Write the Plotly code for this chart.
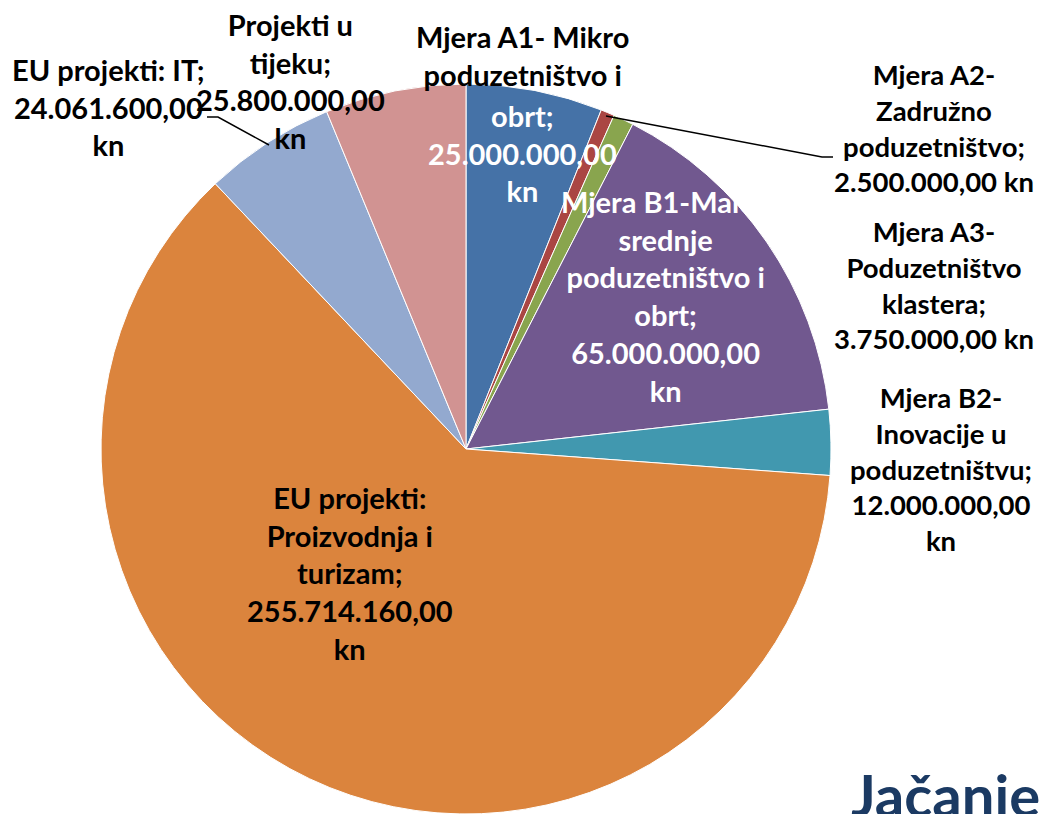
import plotly.graph_objects as go

categories = [
    "Mjera A1- Mikro poduzetništvo i obrt",
    "Mjera A2- Zadružno poduzetništvo",
    "Mjera A3- Poduzetništvo klastera",
    "Mjera B1-Malo i srednje poduzetništvo i obrt",
    "Mjera B2- Inovacije u poduzetništvu",
    "EU projekti: Proizvodnja i turizam",
    "EU projekti: IT",
    "Projekti u tijeku",
]
values = [25000000.00, 2500000.00, 3750000.00, 65000000.00, 12000000.00,
          255714160.00, 24061600.00, 25800000.00]
colors = ["#4572A7", "#AA4643", "#89A54E", "#71588F", "#4198AF",
          "#DB843D", "#93A9CF", "#D19392"]

# page body has an 8px margin; size the figure so it ends at the window edge
OFF = 8
W, H = 1047 - OFF, 814 - OFF
FONT = "Lato, 'Open Sans', sans-serif"


def px(x):
    return (x - OFF) / W


def py(y):
    return 1 - (y - OFF) / H


fig = go.Figure(go.Pie(
    labels=categories,
    values=values,
    sort=False,
    direction="clockwise",
    rotation=0,
    marker=dict(colors=colors, line=dict(color="white", width=1)),
    textinfo="none",
    hoverinfo="label+value",
    domain=dict(x=[px(101), px(831)], y=[0, py(84)]),
    showlegend=False,
))


def fmt(v):
    s = f"{v:,.2f}"
    return s.replace(",", "X").replace(".", ",").replace("X", ".")


labels_def = [
    # text, center x, center y (pixels), color, size
    (f"Projekti u<br>tijeku;<br>{fmt(values[7])}<br>kn", 290, 81, "black", 29),
    (f"EU projekti: IT;<br>{fmt(values[6])}<br>kn", 108, 107, "black", 29),
    ("Mjera A1- Mikro<br>poduzetništvo i", 522, 55, "black", 29),
    (f"obrt;<br>{fmt(values[0])}<br>kn", 522, 153, "white", 29),
    (f"Mjera A2-<br>Zadružno<br>poduzetništvo;<br>{fmt(values[1])} kn", 934, 128, "black", 27.5),
    (f"Mjera A3-<br>Poduzetništvo<br>klastera;<br>{fmt(values[2])} kn", 934, 285, "black", 27.5),
    (f"Mjera B1-Malo i<br>srednje<br>poduzetništvo i<br>obrt;<br>{fmt(values[3])}<br>kn", 665, 296, "white", 29),
    (f"Mjera B2-<br>Inovacije u<br>poduzetništvu;<br>{fmt(values[4])}<br>kn", 941, 469, "black", 27.5),
    (f"EU projekti:<br>Proizvodnja i<br>turizam;<br>{fmt(values[5])}<br>kn", 350, 573, "black", 29),
]

annotations = []
for text, cx, cy, col, size in labels_def:
    annotations.append(dict(
        text=f"<b>{text}</b>", x=px(cx), y=py(cy), xref="paper", yref="paper",
        xanchor="center", yanchor="middle", showarrow=False, align="center",
        font=dict(family=FONT, size=size, color=col),
    ))

annotations.append(dict(
    text="<b>Jačanje</b>", x=px(1042), y=py(758), xref="paper", yref="paper",
    xanchor="right", yanchor="top", showarrow=False,
    font=dict(family=FONT, size=58, color="#1B3A63"),
))

shapes = []
leader_paths = [
    [(606, 116), (822, 157), (833, 157)],
    [(207, 117), (218, 117), (269, 145)],
]
for pts in leader_paths:
    path = "M " + " L ".join(f"{px(x)},{py(y)}" for x, y in pts)
    shapes.append(dict(type="path", path=path, xref="paper", yref="paper",
                       line=dict(color="black", width=1.5)))

fig.update_layout(
    width=W, height=H,
    margin=dict(l=0, r=0, t=0, b=0),
    paper_bgcolor="white", plot_bgcolor="white",
    annotations=annotations, shapes=shapes,
)

fig.write_html("out.html")
